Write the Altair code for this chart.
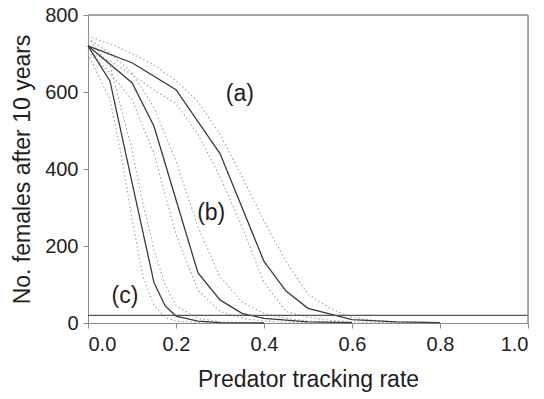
import altair as alt
import pandas as pd

# Model output: number of females after 10 years vs predator tracking rate.
# Three scenarios (a), (b), (c); solid = central estimate, dotted = bounds.
a_x = [0, 0.1, 0.2, 0.3, 0.4, 0.45, 0.5, 0.6, 0.7, 0.8]
a_y = [720, 676, 606, 440, 160, 83, 38, 9, 3, 1]
a_hi_x = [0, 0.05, 0.1, 0.15, 0.2, 0.25, 0.3, 0.35, 0.4, 0.45, 0.5, 0.55, 0.6, 0.65, 0.7, 0.8]
a_hi_y = [745, 725, 700, 670, 630, 575, 490, 380, 265, 160, 75, 38, 15, 7, 3, 1]
a_lo_x = [0, 0.05, 0.1, 0.15, 0.2, 0.25, 0.3, 0.35, 0.4, 0.45, 0.5, 0.55, 0.6, 0.7]
a_lo_y = [705, 680, 645, 605, 570, 490, 380, 250, 105, 30, 15, 7, 3, 1]

b_x = [0, 0.1, 0.15, 0.2, 0.25, 0.3, 0.35, 0.4, 0.5, 0.6]
b_y = [720, 624, 511, 320, 130, 60, 25, 12, 3, 1]
b_hi_x = [0, 0.05, 0.1, 0.15, 0.2, 0.25, 0.3, 0.35, 0.4, 0.45, 0.5, 0.6]
b_hi_y = [740, 700, 650, 560, 420, 250, 120, 55, 25, 12, 5, 1]
b_lo_x = [0, 0.05, 0.1, 0.15, 0.2, 0.25, 0.3, 0.35, 0.4, 0.45, 0.5]
b_lo_y = [705, 650, 580, 440, 230, 85, 30, 12, 5, 2, 1]

c_x = [0, 0.05, 0.1, 0.15, 0.175, 0.2, 0.25, 0.3, 0.4]
c_y = [720, 628, 365, 105, 45, 18, 5, 1, 0]
c_hi_x = [0, 0.05, 0.1, 0.125, 0.15, 0.175, 0.2, 0.25, 0.3, 0.4]
c_hi_y = [740, 670, 450, 310, 190, 100, 45, 12, 3, 0]
c_lo_x = [0, 0.05, 0.075, 0.1, 0.125, 0.15, 0.175, 0.2, 0.25, 0.3]
c_lo_y = [700, 580, 440, 270, 120, 45, 15, 5, 1, 0]

threshold = 20

labels = ["(a)", "(b)", "(c)"]
label_x = [0.345, 0.28, 0.084]
label_y = [594, 287, 69]

rows = []
for name, xs, ys, kind in [
    ("a", a_x, a_y, "mid"), ("a_hi", a_hi_x, a_hi_y, "bound"), ("a_lo", a_lo_x, a_lo_y, "bound"),
    ("b", b_x, b_y, "mid"), ("b_hi", b_hi_x, b_hi_y, "bound"), ("b_lo", b_lo_x, b_lo_y, "bound"),
    ("c", c_x, c_y, "mid"), ("c_hi", c_hi_x, c_hi_y, "bound"), ("c_lo", c_lo_x, c_lo_y, "bound"),
]:
    for i, (x, y) in enumerate(zip(xs, ys)):
        rows.append({"series": name, "kind": kind, "order": i, "rate": x, "females": y})
df = pd.DataFrame(rows)

FONT = "Liberation Sans"
AXIS_GRAY = "#8c8c8c"
TEXT = "#1e1e1e"

xscale = alt.Scale(domain=[0, 1], nice=False, zero=False)
yscale = alt.Scale(domain=[0, 800], nice=False)

xaxis = alt.Axis(values=[0, 0.2, 0.4, 0.6, 0.8, 1.0], format=".1f", title="Predator tracking rate",
                 grid=False, domainColor=AXIS_GRAY, tickColor=AXIS_GRAY, tickSize=5,
                 labelFontSize=20, labelColor=TEXT, labelPadding=6,
                 titleFontSize=23, titleFontWeight="normal", titleColor=TEXT, titlePadding=14)
yaxis = alt.Axis(values=[0, 200, 400, 600, 800], title="No. females after 10 years",
                 grid=False, domainColor=AXIS_GRAY, tickColor=AXIS_GRAY, tickSize=5,
                 labelFontSize=20, labelColor=TEXT, labelPadding=5,
                 titleFontSize=23, titleFontWeight="normal", titleColor=TEXT, titlePadding=10)

base = alt.Chart(df)

bounds = base.transform_filter(alt.datum.kind == "bound").mark_line(
    color="#a0a0a0", strokeWidth=1.1, strokeDash=[1.5, 2.5]
).encode(
    x=alt.X("rate:Q", scale=xscale, axis=xaxis),
    y=alt.Y("females:Q", scale=yscale, axis=yaxis),
    detail="series:N",
    order="order:Q",
)

mids = base.transform_filter(alt.datum.kind == "mid").mark_line(
    color="#3a3a3a", strokeWidth=1.3
).encode(
    x=alt.X("rate:Q", scale=xscale),
    y=alt.Y("females:Q", scale=yscale),
    detail="series:N",
    order="order:Q",
)

thr = alt.Chart(pd.DataFrame({"females": [threshold]})).mark_rule(
    color="#555555", strokeWidth=1.2
).encode(y=alt.Y("females:Q", scale=yscale))

frame_top = alt.Chart(pd.DataFrame({"females": [800]})).mark_rule(
    color=AXIS_GRAY, strokeWidth=1.5
).encode(y=alt.Y("females:Q", scale=yscale))
frame_right = alt.Chart(pd.DataFrame({"rate": [1.0]})).mark_rule(
    color=AXIS_GRAY, strokeWidth=1.5
).encode(x=alt.X("rate:Q", scale=xscale))

text = alt.Chart(pd.DataFrame({"label": labels, "rate": label_x, "females": label_y})).mark_text(
    font=FONT, fontSize=23, color=TEXT
).encode(
    x=alt.X("rate:Q", scale=xscale),
    y=alt.Y("females:Q", scale=yscale),
    text="label:N",
)

chart = alt.layer(bounds, mids, thr, frame_top, frame_right, text).properties(
    width=440, height=308,
    autosize=alt.AutoSizeParams(type="none"),
    padding={"left": 88, "top": 15, "right": 16, "bottom": 76},
).configure_view(stroke=None).configure_axis(
    labelFont=FONT, titleFont=FONT, domainWidth=1.5
).configure(background="white")

chart.save("out.html", embed_options={"renderer": "svg", "actions": False})
